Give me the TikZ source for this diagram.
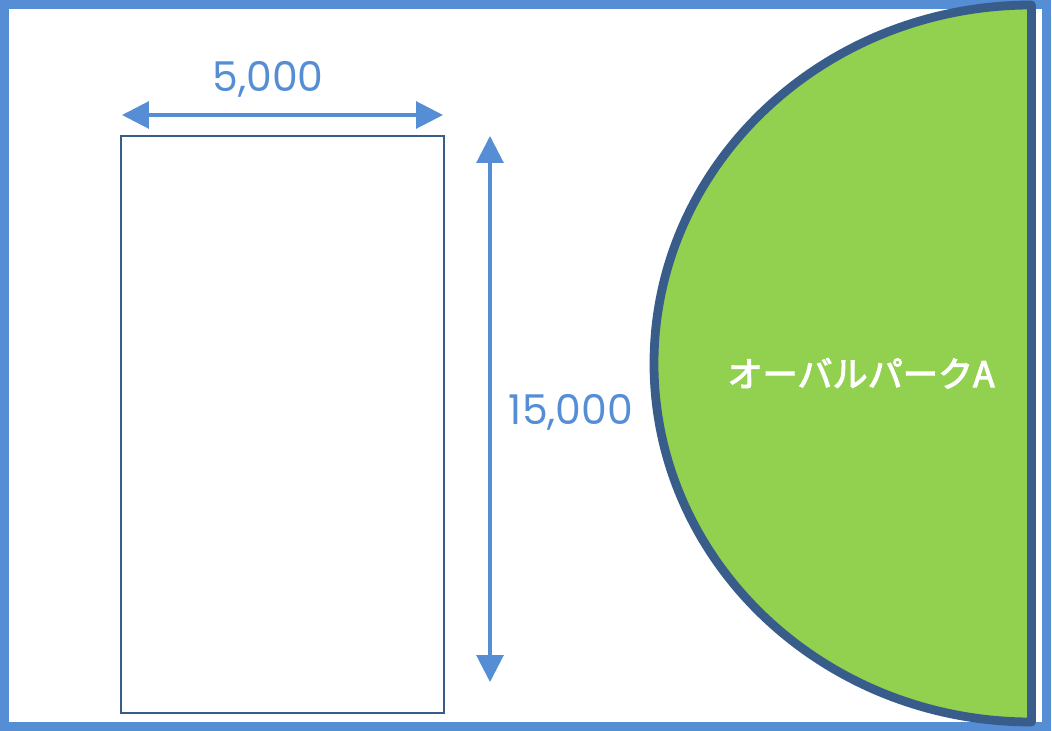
\documentclass[tikz,border=0pt]{standalone}
\usepackage{fontspec}
\usepackage{tikz}
\usetikzlibrary{arrows.meta}
\newfontfamily\jpfont[FakeBold=3]{Noto Sans CJK JP}
\newfontfamily\numfont{Poppins}
\definecolor{framecol}{HTML}{558ED5}
\definecolor{linecol}{HTML}{385D8A}
\definecolor{parkcol}{HTML}{92D050}

\begin{document}
\begin{tikzpicture}[x=0.03cm,y=0.03cm,
	dim/.style={draw=framecol,line width=2.6pt,{Triangle[length=23pt,width=23pt]}-{Triangle[length=23pt,width=23pt]}},
	dimtext/.style={text=framecol,font=\numfont\fontsize{35}{35}\selectfont,anchor=base},
	parktext/.style={text=white,font=\jpfont\fontsize{30}{30}\selectfont,anchor=base}]
	\tikzstyle{every node}+=[inner sep=0pt]
	\useasboundingbox (0,0) rectangle (1052,-731);
	% outer frame
	\draw [framecol,line width=7.5pt] (4.4,-4.2) rectangle (1046.5,-726.5);
	% oval park
	\draw [linecol,fill=parkcol,line width=7.5pt,line join=round] (1031.5,-5) arc (90:270:377.5 and 358.5) -- cycle;
	\node [parktext] (park) at (861,-387) {オーバルパークA};
	% plot
	\draw [linecol,line width=2pt] (121,-136) rectangle (444,-713);
	\coordinate (wl) at (122,-115);
	\coordinate (wr) at (443,-115);
	\draw [dim] (wl) -- (wr);
	\node [dimtext] (wlabel) at (268,-92) {5,000};
	\coordinate (ht) at (490,-136);
	\coordinate (hb) at (490,-682);
	\draw [dim] (ht) -- (hb);
	\node [dimtext] (hlabel) at (571,-424) {15,000};
\end{tikzpicture}
\end{document}
